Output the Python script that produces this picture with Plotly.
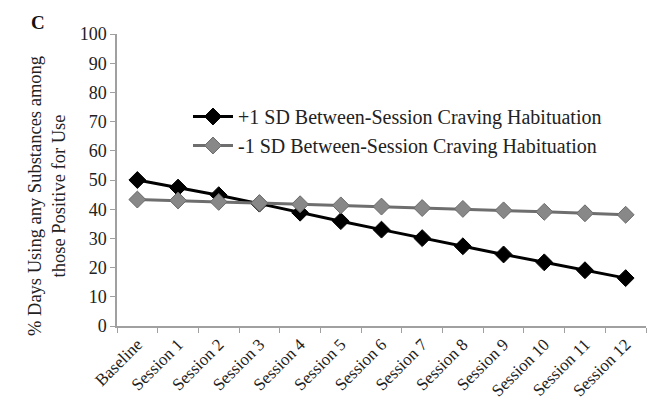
import plotly.graph_objects as go

categories = ["Baseline", "Session 1", "Session 2", "Session 3", "Session 4", "Session 5",
              "Session 6", "Session 7", "Session 8", "Session 9", "Session 10", "Session 11", "Session 12"]
plus_sd = [50.0, 47.4, 44.8, 41.9, 38.8, 35.9, 33.0, 30.1, 27.3, 24.5, 21.8, 19.1, 16.4]
minus_sd = [43.3, 43.0, 42.5, 42.1, 41.7, 41.3, 40.9, 40.4, 40.1, 39.6, 39.1, 38.6, 38.1]
y_ticks = [0, 10, 20, 30, 40, 50, 60, 70, 80, 90, 100]

FONT = "Liberation Serif"
L, R, T, B = 117, 6, 34, 79
W, H = 652, 405
pw = W - L - R
ph = H - T - B


def px(xp):
    return (xp - L) / pw


def py(yp):
    return (H - B - yp) / ph


fig = go.Figure()
fig.add_trace(go.Scatter(
    x=categories, y=plus_sd, mode="lines+markers",
    name="+1 SD Between-Session Craving Habituation",
    line=dict(color="#000000", width=3),
    marker=dict(symbol="diamond", size=13, color="#000000", line=dict(color="#000000", width=1)),
    legendgroup="a",
))
fig.add_trace(go.Scatter(
    x=categories, y=minus_sd, mode="lines+markers",
    name="-1 SD Between-Session Craving Habituation",
    line=dict(color="#6e6e6e", width=3),
    marker=dict(symbol="diamond", size=13, color="#888888", line=dict(color="#6a6a6a", width=1)),
    legendgroup="b",
))

fig.update_layout(
    width=W, height=H,
    margin=dict(l=L, r=R, t=T, b=B, autoexpand=False),
    paper_bgcolor="white", plot_bgcolor="white",
    font=dict(family=FONT, size=18, color="#222222"),
    showlegend=True,
    legend=dict(x=px(188), y=py(131), xanchor="left", yanchor="middle",
                bgcolor="rgba(0,0,0,0)", font=dict(family=FONT, size=20, color="#222222"),
                tracegroupgap=0, itemwidth=40),
    xaxis=dict(type="category", tickangle=-45, showgrid=False, showline=True,
               linecolor="#a0a0a0", linewidth=1.5, ticks="outside", tickson="boundaries",
               ticklen=5, tickcolor="#a0a0a0", tickfont=dict(family=FONT, size=17),
               range=[-0.5, 12.5], automargin=False),
    yaxis=dict(range=[0, 100], tickvals=y_ticks, showgrid=False, showline=True,
               linecolor="#a0a0a0", linewidth=1.5, ticks="outside", ticklen=5,
               tickcolor="#a0a0a0", tickfont=dict(family=FONT, size=18), zeroline=False,
               automargin=False),
    annotations=[
        dict(text="<b>C</b>", x=px(38), y=py(22), xref="paper", yref="paper", showarrow=False,
             xanchor="center", yanchor="middle",
             font=dict(family=FONT, size=19, color="#111111")),
        dict(text="% Days Using any Substances among<br>those Positive for Use",
             x=px(47), y=py(196), xref="paper", yref="paper", showarrow=False, textangle=-90,
             xanchor="center", yanchor="middle",
             font=dict(family=FONT, size=18.5, color="#222222")),
    ],
)

fig.write_html("out.html")
